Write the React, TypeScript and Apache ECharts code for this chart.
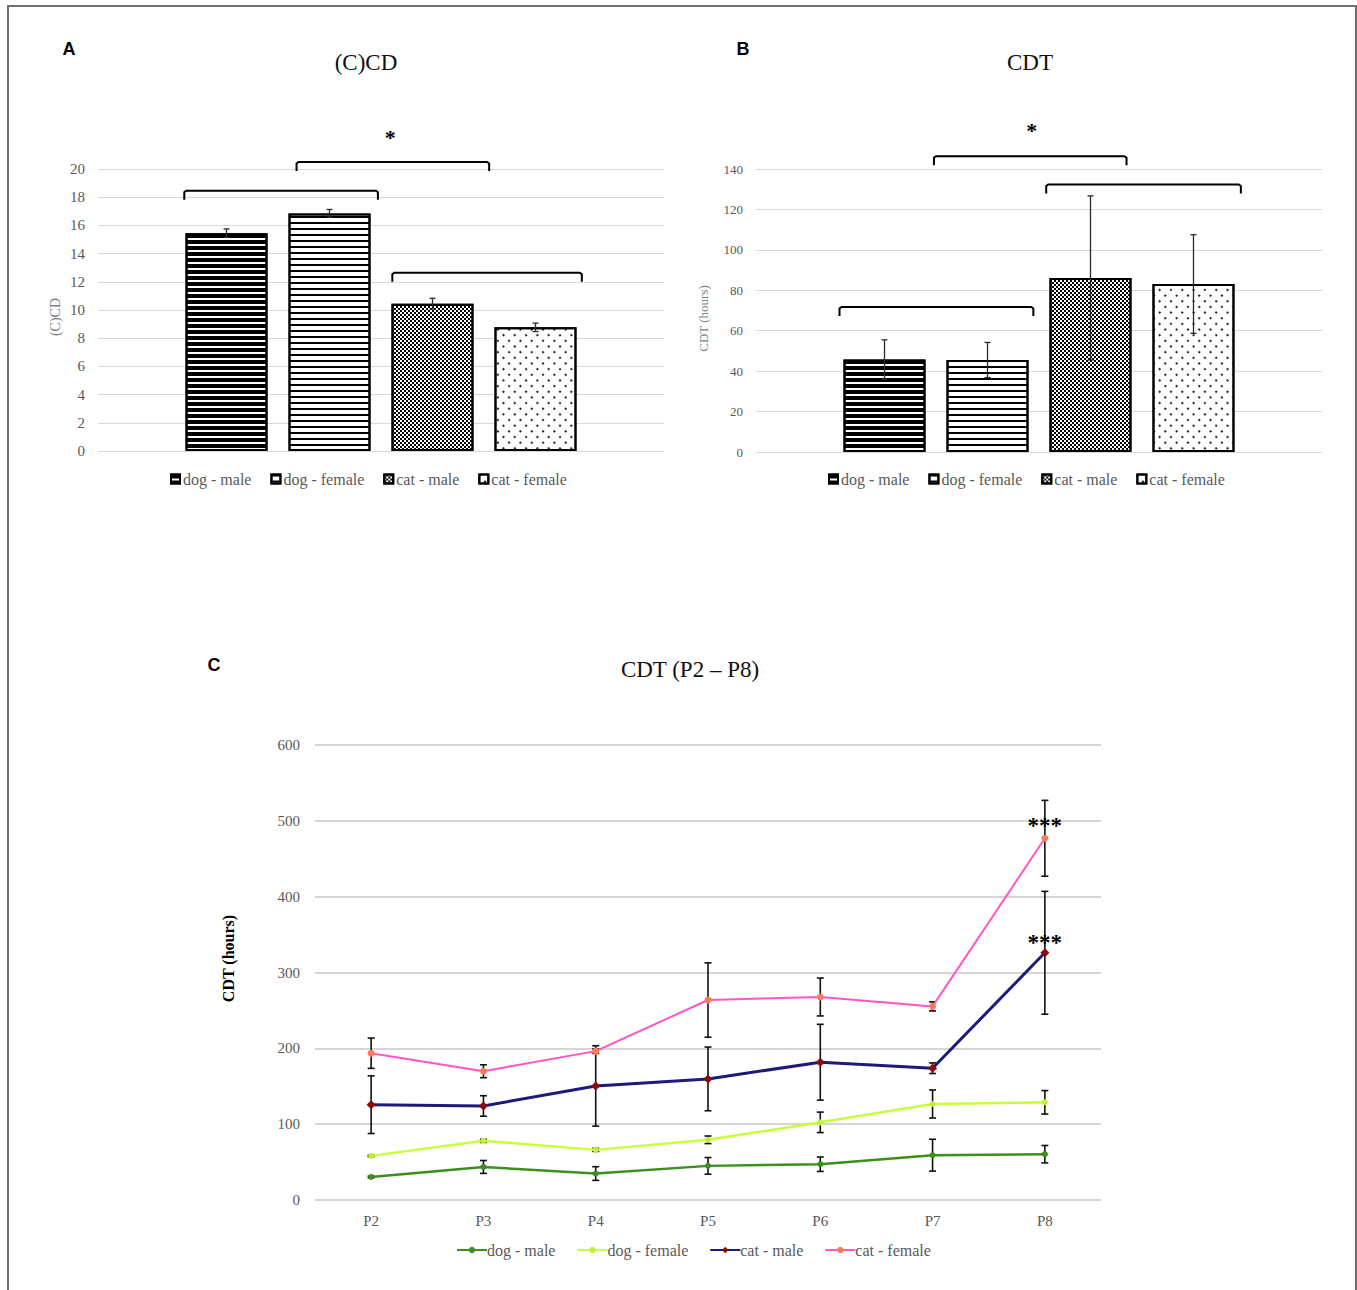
import React, { useEffect, useRef } from "react";
import * as echarts from "echarts";

// ---------- data ----------
const GROUPS = ["dog - male", "dog - female", "cat - male", "cat - female"];

// Panel A: (C)CD
const CCD_MEAN = [15.45, 16.85, 10.45, 8.77];
const CCD_ERR = [0.3, 0.28, 0.38, 0.3];
// brackets: [from slot, to slot, level]
const CCD_BRACKETS = [
  [-0.41, 1.47, 18.46],
  [0.68, 2.55, 20.5],
  [1.61, 3.45, 12.65],
];
const CCD_STARS = [[1.59, 22.3, "*"]];

// Panel B: CDT
const CDT_MEAN = [45.7, 45.5, 86.1, 83.1];
const CDT_ERR = [9.8, 8.7, 40.6, 24.4];
const CDT_BRACKETS = [
  [-0.437, 1.445, 71.7],
  [0.48, 2.35, 146.3],
  [1.57, 3.46, 132.3],
];
const CDT_STARS = [[1.43, 159.5, "*"]];

// Panel C: CDT (P2 – P8)
const PHASES = ["P2", "P3", "P4", "P5", "P6", "P7", "P8"];
const DOG_MALE = [30.4, 43.6, 34.9, 45, 47.2, 59.1, 60.4];
const DOG_MALE_ERR = [1, 8.5, 9, 11, 9.5, 21, 11.5];
const DOG_FEMALE = [58.2, 78, 66.1, 79.4, 102.4, 126.6, 128.8];
const DOG_FEMALE_ERR = [1, 2, 2, 5, 13.5, 18.5, 15.5];
const CAT_MALE = [125.7, 124, 150.4, 159.7, 181.7, 173.8, 326];
const CAT_MALE_ERR = [38, 13.5, 53, 42, 50, 7, 81];
const CAT_FEMALE = [193.6, 169.8, 196.3, 263.7, 267.7, 255.3, 477];
const CAT_FEMALE_ERR = [20, 8.5, 3, 49, 25, 6, 50];
const C_STARS = [[6, 500, "***"], [6, 346, "***"]];

// ---------- styles ----------
const SERIF = "'Liberation Serif', 'Times New Roman', serif";
const SANS = "'Liberation Sans', Arial, sans-serif";
const BAR_W = 82;
const BAR_GAP = 0.256;
const PITCH = BAR_W * (1 + BAR_GAP);

const DECALS: any[] = [
  { symbol: "rect", symbolSize: 1, color: "#000", backgroundColor: "#fff", dashArrayX: [8, 0], dashArrayY: [4, 2] },
  { symbol: "rect", symbolSize: 1, color: "#000", backgroundColor: "#fff", dashArrayX: [8, 0], dashArrayY: [2, 4] },
  { symbol: "rect", symbolSize: 1, color: "#000", backgroundColor: "#fff", dashArrayX: [[2, 2], [0, 2, 2, 0]], dashArrayY: [2, 0] },
  { symbol: "circle", symbolSize: 1, color: "#000", backgroundColor: "#fff", dashArrayX: [2, 6], dashArrayY: [2, 6], rotation: Math.PI / 4 },
];

const LINE_COLORS = ["#3a8f1e", "#c8ff3c", "#1d1a78", "#ff55c8"];
const MARKER_COLORS = ["#3a8f1e", "#bff03a", "#8b0a0a", "#ff7a59"];
const MARKERS = ["circle", "circle", "diamond", "circle"];
const MARKER_SIZES = [6, 6, 9, 7];
const LINE_WIDTHS = [2.5, 2.5, 3, 2];

function barPanel(opts: {
  left: number; top: number; width: number; height: number;
  max: number; interval: number; labelSize: number;
  means: number[]; errs: number[]; brackets: number[][]; stars: any[];
  yName: string; yNameSize: number; yNameGap: number; yNamePad: number[];
  legendLeft: number; title: string; titleX: number; letter: string; letterX: number;
}) {
  const barSeries = GROUPS.map((g, i) => ({
    type: "bar",
    name: g,
    data: [opts.means[i]],
    barWidth: BAR_W,
    barGap: BAR_GAP * 100 + "%",
    itemStyle: { color: "#fff", borderColor: "#000", borderWidth: 2, decal: DECALS[i] },
    z: 2,
  }));
  const errSeries = {
    type: "custom",
    silent: true,
    clip: false,
    z: 5,
    data: opts.means.map((m, i) => [0, m, opts.errs[i], i]),
    encode: { x: 0, y: 1 },
    renderItem: (_p: any, api: any) => {
      const m = api.value(1), e = api.value(2), i = api.value(3);
      const c = api.coord([0, m]);
      const x = c[0] + (i - 1.5) * PITCH;
      const yT = api.coord([0, m + e])[1];
      const yB = api.coord([0, m - e])[1];
      const st = { stroke: "#2b2b2b", lineWidth: 1.3, fill: "none" };
      return {
        type: "group",
        children: [
          { type: "line", shape: { x1: x, y1: yT, x2: x, y2: yB }, style: st },
          { type: "line", shape: { x1: x - 3, y1: yT, x2: x + 3, y2: yT }, style: st },
          { type: "line", shape: { x1: x - 3, y1: yB, x2: x + 3, y2: yB }, style: st },
        ],
      };
    },
  };
  const bracketSeries = {
    type: "custom",
    silent: true,
    clip: false,
    z: 6,
    data: opts.brackets.map((b) => [0, b[2], b[0], b[1]]),
    encode: { x: 0, y: 1 },
    renderItem: (_p: any, api: any) => {
      const lvl = api.value(1), f = api.value(2), t = api.value(3);
      const c = api.coord([0, lvl]);
      const x0 = c[0] + (f - 1.5) * PITCH;
      const x1 = c[0] + (t - 1.5) * PITCH;
      const y = c[1];
      return {
        type: "polyline",
        shape: { points: [[x0, y + 9], [x0, y + 1.5], [x0 + 2, y], [x1 - 2, y], [x1, y + 1.5], [x1, y + 9]] },
        style: { stroke: "#000", lineWidth: 2, fill: "none" },
      };
    },
  };
  const starSeries = {
    type: "custom",
    silent: true,
    clip: false,
    z: 6,
    data: opts.stars.map((s) => [0, s[1], s[0], s[2]]),
    encode: { x: 0, y: 1 },
    renderItem: (_p: any, api: any) => {
      const lvl = api.value(1), sl = api.value(2);
      const c = api.coord([0, lvl]);
      return {
        type: "text",
        x: c[0] + (sl - 1.5) * PITCH,
        y: c[1] + 1,
        style: { text: "*", fontSize: 22, fontWeight: "bold", fontFamily: SERIF, fill: "#000", align: "center", verticalAlign: "middle" },
      };
    },
  };
  return {
    animation: false,
    grid: { left: opts.left, top: opts.top, width: opts.width, height: opts.height },
    xAxis: {
      type: "category",
      data: [opts.title],
      axisLine: { show: false },
      axisTick: { show: false },
      axisLabel: { show: false },
    },
    yAxis: {
      type: "value",
      min: 0,
      max: opts.max,
      interval: opts.interval,
      name: opts.yName,
      nameLocation: "middle",
      nameGap: opts.yNameGap,
      nameTextStyle: { fontFamily: SERIF, fontSize: opts.yNameSize, color: "#7f7f7f", padding: opts.yNamePad },
      axisLine: { show: false },
      axisTick: { show: false },
      axisLabel: { fontFamily: SERIF, fontSize: opts.labelSize, color: "#595959", margin: 13 },
      splitLine: { lineStyle: { color: "#d9d9d9", width: 1.2 } },
    },
    legend: {
      data: GROUPS,
      left: opts.legendLeft,
      top: 471,
      padding: 0,
      itemWidth: 9,
      itemHeight: 9,
      itemGap: 19,
      icon: "rect",
      selectedMode: false,
      textStyle: { fontFamily: SERIF, fontSize: 16, color: "#595959", padding: [0, 0, 0, -2] },
    },
    graphic: [
      { type: "text", x: opts.titleX, y: 62, style: { text: opts.title, fontFamily: SERIF, fontSize: 23, fill: "#111", align: "center", verticalAlign: "middle" } },
      { type: "text", x: opts.letterX, y: 49, style: { text: opts.letter, fontFamily: SANS, fontWeight: "bold", fontSize: 18, fill: "#000", align: "center", verticalAlign: "middle" } },
    ],
    series: [...barSeries, errSeries, bracketSeries, starSeries],
  };
}

function linePanel() {
  const values = [DOG_MALE, DOG_FEMALE, CAT_MALE, CAT_FEMALE];
  const errs = [DOG_MALE_ERR, DOG_FEMALE_ERR, CAT_MALE_ERR, CAT_FEMALE_ERR];
  const errData: number[][] = [];
  values.forEach((arr, s) => arr.forEach((v, i) => errData.push([i, v - errs[s][i], v + errs[s][i]])));
  const errSeries = {
    type: "custom",
    silent: true,
    clip: false,
    z: 1,
    data: errData,
    encode: { x: 0, y: [1, 2] },
    renderItem: (_p: any, api: any) => {
      const i = api.value(0);
      const lo = api.coord([i, api.value(1)]);
      const hi = api.coord([i, api.value(2)]);
      const x = lo[0];
      const st = { stroke: "#111", lineWidth: 1.6, fill: "none" };
      return {
        type: "group",
        children: [
          { type: "line", shape: { x1: x, y1: hi[1], x2: x, y2: lo[1] }, style: st },
          { type: "line", shape: { x1: x - 3.5, y1: hi[1], x2: x + 3.5, y2: hi[1] }, style: st },
          { type: "line", shape: { x1: x - 3.5, y1: lo[1], x2: x + 3.5, y2: lo[1] }, style: st },
        ],
      };
    },
  };
  const lineSeries = GROUPS.map((g, s) => ({
    type: "line",
    name: g,
    data: values[s],
    symbol: MARKERS[s],
    symbolSize: MARKER_SIZES[s],
    showSymbol: true,
    lineStyle: { color: LINE_COLORS[s], width: LINE_WIDTHS[s] },
    itemStyle: { color: MARKER_COLORS[s] },
    z: 3,
  }));
  const starSeries = {
    type: "custom",
    silent: true,
    clip: false,
    z: 6,
    data: C_STARS.map((s) => [s[0], s[1], s[2]]),
    encode: { x: 0, y: 1 },
    renderItem: (_p: any, api: any) => {
      const c = api.coord([api.value(0), api.value(1)]);
      return {
        type: "text",
        x: c[0],
        y: c[1] + 5,
        style: { text: "***", fontSize: 23, fontWeight: "bold", fontFamily: SERIF, fill: "#000", align: "center", verticalAlign: "middle" },
      };
    },
  };
  return {
    animation: false,
    grid: { left: 315, top: 745, width: 786, height: 455 },
    xAxis: {
      type: "category",
      data: PHASES,
      axisLine: { show: false },
      axisTick: { show: false },
      axisLabel: { fontFamily: SERIF, fontSize: 15, color: "#595959", margin: 13 },
    },
    yAxis: {
      type: "value",
      min: 0,
      max: 600,
      interval: 100,
      name: "CDT (hours)",
      nameLocation: "middle",
      nameGap: 79,
      nameTextStyle: { fontFamily: SERIF, fontSize: 16, fontWeight: "bold", color: "#000", padding: [0, 0, 0, 28] },
      axisLine: { show: false },
      axisTick: { show: false },
      axisLabel: { fontFamily: SERIF, fontSize: 15, color: "#595959", margin: 15 },
      splitLine: { lineStyle: { color: "#c9c9c9", width: 1.5 } },
    },
    legend: {
      data: GROUPS,
      left: 456,
      top: 1242,
      padding: 0,
      itemWidth: 30,
      itemHeight: 8,
      itemGap: 21,
      selectedMode: false,
      textStyle: { fontFamily: SERIF, fontSize: 16, color: "#595959", padding: [0, 0, 0, -5] },
    },
    graphic: [
      { type: "text", x: 690, y: 669, style: { text: "CDT (P2 – P8)", fontFamily: SERIF, fontSize: 23, fill: "#111", align: "center", verticalAlign: "middle" } },
      { type: "text", x: 214, y: 665, style: { text: "C", fontFamily: SANS, fontWeight: "bold", fontSize: 18, fill: "#000", align: "center", verticalAlign: "middle" } },
    ],
    series: [errSeries, ...lineSeries, starSeries],
  };
}

function Chart({ option }: { option: any }) {
  const ref = useRef<HTMLDivElement>(null);
  useEffect(() => {
    if (!ref.current) return;
    const chart = echarts.init(ref.current, undefined, { renderer: "svg" });
    chart.setOption(option);
    return () => chart.dispose();
  }, [option]);
  return <div ref={ref} style={{ position: "absolute", left: 0, top: 0, width: 1357, height: 1290 }} />;
}

const OPT_A = barPanel({
  left: 98, top: 169, width: 566, height: 282, max: 20, interval: 2, labelSize: 15,
  means: CCD_MEAN, errs: CCD_ERR, brackets: CCD_BRACKETS, stars: CCD_STARS,
  yName: "(C)CD", yNameSize: 14, yNameGap: 36, yNamePad: [0, 14, 0, 0],
  legendLeft: 170, title: "(C)CD", titleX: 366, letter: "A", letterX: 69,
});
const OPT_B = barPanel({
  left: 756, top: 169, width: 566, height: 283, max: 140, interval: 20, labelSize: 13,
  means: CDT_MEAN, errs: CDT_ERR, brackets: CDT_BRACKETS, stars: CDT_STARS,
  yName: "CDT (hours)", yNameSize: 13, yNameGap: 46, yNamePad: [0, 16, 0, 0],
  legendLeft: 828, title: "CDT", titleX: 1030, letter: "B", letterX: 743,
});
const OPT_C = linePanel();

export default function App() {
  return (
    <div style={{ position: "fixed", left: 0, top: 0, width: 1357, height: 1290, background: "#fff", overflow: "hidden" }}>
      <div style={{ position: "absolute", left: 7, top: 5, width: 1350, height: 1300, border: "2px solid #707070", borderBottom: "none", boxSizing: "border-box" }} />
      <Chart option={OPT_A} />
      <Chart option={OPT_B} />
      <Chart option={OPT_C} />
    </div>
  );
}
